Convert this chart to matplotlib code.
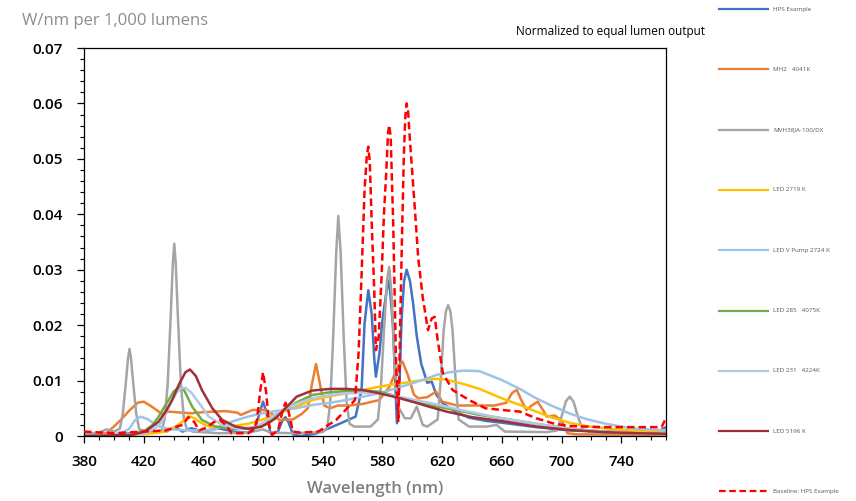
import numpy as np
import matplotlib.pyplot as plt
from matplotlib.lines import Line2D
from matplotlib.ticker import MultipleLocator, FixedLocator

plt.rcParams['font.family'] = ['Open Sans', 'DejaVu Sans']

# ---- data (nm, W/nm per 1,000 lm) ----
hps_wl = [380, 400, 420, 435, 441, 446, 452, 460, 470, 480, 490, 495, 498, 500, 502, 505,
          510, 513, 515, 517, 520, 525, 535, 545, 552, 562, 566, 568, 570.5, 572.8, 574.5,
          575.6, 578, 580, 582.8, 584.5, 587, 589.7, 591.5, 592.8, 594.5, 596.2, 598.4, 600.5,
          603, 606, 610, 613, 616, 620, 628, 638, 650, 660, 683, 705, 728, 750, 765, 770]
hps_val = [0.0002, 0.0003, 0.0006, 0.0008, 0.0016, 0.0008, 0.0014, 0.0008, 0.0014, 0.0008,
           0.0006, 0.0015, 0.0045, 0.0062, 0.0045, 0.0005, 0.0008, 0.0028, 0.0034, 0.0025,
           0.0003, 0.0, 0.0004, 0.0015, 0.0023, 0.0035, 0.0083, 0.0203, 0.0263, 0.022, 0.014,
           0.0107, 0.015, 0.021, 0.0263, 0.0281, 0.020, 0.0023, 0.010, 0.021, 0.028, 0.030,
           0.028, 0.024, 0.018, 0.013, 0.0096, 0.0098, 0.0075, 0.006, 0.0045, 0.0033, 0.0027,
           0.0024, 0.0016, 0.0010, 0.0008, 0.0007, 0.0008, 0.0016]

mh_wl = [380, 395, 400, 405, 410, 416, 420, 426, 432, 437, 446, 452, 460, 467, 475, 483, 485,
         493, 502, 507, 511, 520, 526, 530, 532.5, 535.5, 538, 541, 545, 550, 558, 567, 578,
         585, 590, 593.5, 597, 601, 604, 610, 616, 620, 630, 645, 655, 663, 667, 670, 673,
         676.5, 680, 684, 688, 690, 695.5, 700, 704, 710, 770]
mh_val = [0.0002, 0.0005, 0.0017, 0.003, 0.0045, 0.006, 0.0062, 0.0052, 0.004, 0.0044,
          0.0042, 0.0041, 0.0043, 0.0044, 0.0045, 0.0042, 0.0038, 0.0047, 0.0047, 0.0038,
          0.0029, 0.003, 0.004, 0.005, 0.009, 0.013, 0.0095, 0.0055, 0.005, 0.0055, 0.0055,
          0.0058, 0.0065, 0.009, 0.0125, 0.0134, 0.011, 0.0075, 0.0068, 0.007, 0.008, 0.0062,
          0.0055, 0.0055, 0.0055, 0.006, 0.0078, 0.0083, 0.0065, 0.0047, 0.0055, 0.0062,
          0.0045, 0.0035, 0.0037, 0.0028, 0.0005, 0.0003, 0.0002]

mv_wl = [380, 390, 395, 400, 404, 406, 408, 409.5, 410.5, 411.5, 413, 415, 417, 425, 432,
         434, 436, 438, 439.5, 440.5, 441.5, 443, 445, 447, 449, 453, 470, 490, 500, 505, 520,
         540, 543, 545, 547, 549, 550.4, 552, 554, 556, 558, 561, 572, 577, 579, 581, 583,
         584.5, 586, 588, 590.5, 595, 599, 603, 607, 610, 617, 619, 621, 622.5, 624, 625.5,
         627, 629, 631, 638, 650, 656.5, 662, 690, 697, 700, 703, 705.5, 708, 711, 714, 720,
         770]
mv_val = [0.0004, 0.0006, 0.0012, 0.0008, 0.0013, 0.004, 0.0095, 0.014, 0.0157, 0.014,
          0.0095, 0.004, 0.0012, 0.0006, 0.001, 0.003, 0.009, 0.021, 0.031, 0.0347, 0.031,
          0.021, 0.009, 0.003, 0.0012, 0.0008, 0.0005, 0.0006, 0.0012, 0.0006, 0.0005, 0.0007,
          0.0015, 0.006, 0.018, 0.033, 0.0397, 0.033, 0.018, 0.006, 0.0022, 0.0017, 0.0017,
          0.003, 0.009, 0.019, 0.028, 0.0305, 0.026, 0.014, 0.0053, 0.0032, 0.0032, 0.0053,
          0.002, 0.0017, 0.003, 0.010, 0.019, 0.0225, 0.0236, 0.0225, 0.019, 0.010, 0.003,
          0.0017, 0.0017, 0.002, 0.0008, 0.0007, 0.001, 0.0035, 0.0063, 0.0071, 0.0062, 0.0035,
          0.0012, 0.0006, 0.0004]

l2719_wl = [380, 420, 435, 442, 446, 450, 454, 459, 464, 477, 490, 500, 511, 522, 533.5, 545,
            556, 567, 578, 589, 600, 610, 616, 622, 634, 645, 660, 672, 683, 694, 705, 716,
            728, 750, 770]
l2719_val = [0.0, 0.0003, 0.0008, 0.0018, 0.0026, 0.0036, 0.0032, 0.0023, 0.0017, 0.0017,
             0.0022, 0.003, 0.0041, 0.0053, 0.0065, 0.0072, 0.0077, 0.0083, 0.0089, 0.0094,
             0.0098, 0.0102, 0.0103, 0.0102, 0.0094, 0.0085, 0.0068, 0.0056, 0.0044, 0.0033,
             0.0024, 0.0018, 0.0014, 0.0009, 0.0008]

vp_wl = [380, 400, 405, 410, 414, 418, 423, 428, 433, 439, 450, 460, 468, 479, 490, 499, 511,
         522, 533, 545, 556, 567, 578, 589, 600, 610, 616, 625, 634, 645, 660, 672, 683, 694,
         705, 716, 728, 740, 750, 765, 770]
vp_val = [0.0, 0.0003, 0.0006, 0.0012, 0.0028, 0.0035, 0.003, 0.002, 0.0015, 0.0012, 0.001,
          0.001, 0.0012, 0.0026, 0.0035, 0.0041, 0.0046, 0.005, 0.0056, 0.006, 0.0065, 0.0071,
          0.0077, 0.0086, 0.0095, 0.0104, 0.011, 0.0115, 0.0118, 0.0117, 0.0101, 0.0085,
          0.0068, 0.0054, 0.0041, 0.0031, 0.0023, 0.0017, 0.0013, 0.0011, 0.0010]

l285_wl = [380, 410, 421, 426, 430, 436, 440, 443.5, 447, 452.5, 459, 468, 479, 490, 497, 504,
           511, 522, 533, 545, 556, 567, 578, 589, 600, 611, 623, 634, 645, 660, 683, 705, 728,
           750, 770]
l285_val = [0.0, 0.0001, 0.001, 0.002, 0.0035, 0.0062, 0.008, 0.0088, 0.0083, 0.0053, 0.0029,
            0.0017, 0.0013, 0.0013, 0.0016, 0.0023, 0.0042, 0.006, 0.0074, 0.0079, 0.0081,
            0.0081, 0.008, 0.0072, 0.0062, 0.0056, 0.005, 0.0044, 0.0038, 0.0032, 0.0022,
            0.0013, 0.0008, 0.0005, 0.0003]

l231_wl = [380, 420, 428, 432, 437, 442, 445, 448, 452, 457, 463.6, 472.6, 483.7, 495, 504,
           511, 522, 533, 545, 556, 567, 578, 589, 600, 611, 623, 634, 645, 660, 683, 705, 728,
           750, 770]
l231_val = [0.0, 0.0004, 0.0015, 0.0025, 0.0053, 0.0078, 0.0086, 0.0087, 0.0078, 0.006,
            0.0035, 0.002, 0.0013, 0.0017, 0.003, 0.0045, 0.0058, 0.0068, 0.0074, 0.0077,
            0.0078, 0.0077, 0.0072, 0.0066, 0.006, 0.0053, 0.0046, 0.004, 0.0032, 0.0022,
            0.0013, 0.0008, 0.0005, 0.0003]

l5196_wl = [380, 412, 421, 430, 435, 439, 444, 448, 451, 455, 459, 466, 472.6, 481.5, 490, 499,
            508, 515, 522.5, 533, 545, 556, 567, 578, 589, 600, 611, 623, 640, 660, 683, 705,
            728, 750, 770]
l5196_val = [0.0, 0.0002, 0.0008, 0.0026, 0.0045, 0.0065, 0.0095, 0.0115, 0.012, 0.0108,
             0.0083, 0.005, 0.0029, 0.0017, 0.0013, 0.0017, 0.0031, 0.005, 0.0071, 0.0082,
             0.0085, 0.0085, 0.0083, 0.0077, 0.007, 0.0062, 0.0053, 0.0044, 0.0034, 0.0027,
             0.0017, 0.0011, 0.0007, 0.0005, 0.0004]

base_wl = [380, 400, 420, 435, 441, 446, 450, 454, 457, 462, 467, 471, 475, 479, 490, 494, 496,
           498, 500, 502, 504, 506, 510, 513, 515, 517, 520, 525, 537, 549, 557, 561.6, 564,
           566, 568, 569.5, 570.5, 571.5, 572.8, 574.5, 575.6, 577.5, 579.5, 581, 582.5, 583.7,
           584.5, 585.5, 587.2, 589, 590.6, 592.8, 594.3, 595.3, 596.2, 597.2, 598.4, 601.6,
           604, 607, 610.5, 613, 615, 617, 620.5, 627, 638, 649, 660, 672, 683, 694, 705, 728,
           761, 767, 770]
base_val = [0.0008, 0.0005, 0.0008, 0.001, 0.0016, 0.002, 0.0034, 0.0025, 0.001, 0.0015,
            0.0025, 0.0029, 0.002, 0.0005, 0.0005, 0.0012, 0.003, 0.008, 0.0115, 0.008, 0.002,
            0.0002, 0.001, 0.0045, 0.006, 0.0045, 0.0008, 0.0006, 0.0008, 0.0029, 0.0052,
            0.0065, 0.015, 0.029, 0.0444, 0.0505, 0.0522, 0.0495, 0.0384, 0.0263, 0.0155,
            0.018, 0.0294, 0.040, 0.0474, 0.0545, 0.0561, 0.054, 0.0384, 0.0143, 0.0025, 0.0323,
            0.0504, 0.0575, 0.060, 0.0585, 0.0534, 0.0414, 0.032, 0.025, 0.0191, 0.0212,
            0.0215, 0.0173, 0.0113, 0.0083, 0.0065, 0.005, 0.0047, 0.0044, 0.0032, 0.0023,
            0.0018, 0.0016, 0.0016, 0.0016, 0.0032]

labels = ['HPS Example', 'MH2   4041K', 'MVH38JA-100/DX', 'LED 2719 K', 'LED V Pump 2724 K',
          'LED 285   4075K', 'LED 231   4224K', 'LED 5196 K', 'Baseline: HPS Example']
series = [(hps_wl, hps_val), (mh_wl, mh_val), (mv_wl, mv_val), (l2719_wl, l2719_val),
          (vp_wl, vp_val), (l285_wl, l285_val), (l231_wl, l231_val), (l5196_wl, l5196_val),
          (base_wl, base_val)]
colors = ['#4472C4', '#ED7D31', '#A5A5A5', '#FFC000', '#9DC3E6', '#70AD47', '#B4C7E7',
          '#9E3039', '#FF0000']
dash = (0, (3, 1.6))

fig = plt.figure(figsize=(8.56, 5.01), dpi=100)
W, H = 856, 501
ax = fig.add_axes([84 / W, 1 - 436 / H, (666 - 84) / W, (436 - 48) / H])

for (wl, val), c, lab in zip(series, colors, labels):
    if lab.startswith('Baseline'):
        ax.plot(wl, val, color=c, lw=1.8, ls=dash, label=lab, zorder=5)
    else:
        ax.plot(wl, val, color=c, lw=1.8, label=lab, solid_joinstyle='round')

ax.set_xlim(380, 770)
ax.set_ylim(0, 0.07)
ax.xaxis.set_major_locator(FixedLocator(np.arange(380, 771, 40)))
ax.xaxis.set_minor_locator(MultipleLocator(10))
ax.yaxis.set_major_locator(MultipleLocator(0.01))
ax.yaxis.set_minor_locator(MultipleLocator(0.002))
ax.set_yticklabels([f'{v:.2f}' if v > 0 else '0' for v in ax.get_yticks()])
for s in ax.spines.values():
    s.set_linewidth(0.9)
    s.set_color('black')
ax.tick_params(which='major', direction='out', length=5, width=0.9, labelsize=11)
ax.tick_params(which='minor', direction='out', length=3, width=0.8)
ax.tick_params(axis='y', which='major', pad=10)
ax.tick_params(axis='x', which='major', pad=9)
for t in ax.get_xticklabels() + ax.get_yticklabels():
    t.set_fontweight('semibold')

ax.set_xlabel('Wavelength (nm)', fontsize=12, color='#7F7F7F', fontweight='semibold',
              labelpad=8)
fig.text(22 / W, 1 - 25 / H, 'W/nm per 1,000 lumens', fontsize=12, color='#8C8C8C',
         va='baseline')
fig.text(610 / W, 1 - 32 / H, 'Normalized to equal lumen output', fontsize=8.5,
         color='black', ha='center', va='center')

# legend on the right, one entry every ~60 px
for i, (c, lab) in enumerate(zip(colors, labels)):
    y = 1 - (9 + i * 60.3) / H
    ls = dash if lab.startswith('Baseline') else '-'
    fig.add_artist(Line2D([719 / W, 768 / W], [y, y], color=c, lw=1.6, ls=ls,
                          transform=fig.transFigure))
    fig.text(773 / W, y, lab, fontsize=4.5, color='#595959', va='center')

fig.savefig('out.png', dpi=100)
